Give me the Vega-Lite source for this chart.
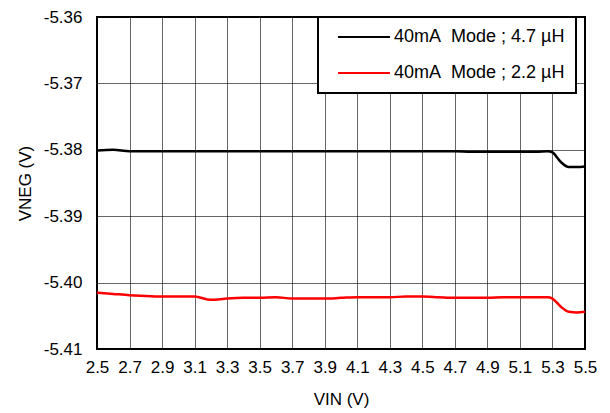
{
  "$schema": "https://vega.github.io/schema/vega-lite/v6.json",
  "width": 488,
  "height": 332,
  "autosize": "none",
  "padding": {"left": 97, "top": 17, "right": 25, "bottom": 64},
  "background": "white",
  "config": {
    "font": "Liberation Sans",
    "view": {"stroke": "black", "strokeWidth": 2},
    "axis": {"labelFont": "Liberation Sans", "titleFont": "Liberation Sans", "labelFontSize": 17, "titleFontSize": 17, "titleFontWeight": "normal", "labelColor": "black", "titleColor": "black", "gridColor": "black", "gridOpacity": 0.6, "gridWidth": 1, "ticks": false, "domain": false}
  },
  "data": {"values": [
    {"vin": 2.5, "v": -5.3801, "s": "A"}, {"vin": 2.6, "v": -5.3800, "s": "A"}, {"vin": 2.7, "v": -5.3802, "s": "A"},
    {"vin": 2.8, "v": -5.3802, "s": "A"}, {"vin": 2.9, "v": -5.3802, "s": "A"}, {"vin": 3.0, "v": -5.3802, "s": "A"},
    {"vin": 3.1, "v": -5.3802, "s": "A"}, {"vin": 3.2, "v": -5.3802, "s": "A"}, {"vin": 3.3, "v": -5.3802, "s": "A"},
    {"vin": 3.4, "v": -5.3802, "s": "A"}, {"vin": 3.5, "v": -5.3802, "s": "A"}, {"vin": 3.6, "v": -5.3802, "s": "A"},
    {"vin": 3.7, "v": -5.3802, "s": "A"}, {"vin": 3.8, "v": -5.3802, "s": "A"}, {"vin": 3.9, "v": -5.3802, "s": "A"},
    {"vin": 4.0, "v": -5.3802, "s": "A"}, {"vin": 4.1, "v": -5.3802, "s": "A"}, {"vin": 4.2, "v": -5.3802, "s": "A"},
    {"vin": 4.3, "v": -5.3802, "s": "A"}, {"vin": 4.4, "v": -5.3802, "s": "A"}, {"vin": 4.5, "v": -5.3802, "s": "A"},
    {"vin": 4.6, "v": -5.3802, "s": "A"}, {"vin": 4.7, "v": -5.3802, "s": "A"}, {"vin": 4.8, "v": -5.3803, "s": "A"},
    {"vin": 4.9, "v": -5.3803, "s": "A"}, {"vin": 5.0, "v": -5.3803, "s": "A"}, {"vin": 5.1, "v": -5.3803, "s": "A"},
    {"vin": 5.2, "v": -5.3803, "s": "A"}, {"vin": 5.27, "v": -5.3802, "s": "A"}, {"vin": 5.3, "v": -5.3804, "s": "A"},
    {"vin": 5.35, "v": -5.3818, "s": "A"}, {"vin": 5.4, "v": -5.3826, "s": "A"}, {"vin": 5.45, "v": -5.3826, "s": "A"},
    {"vin": 5.5, "v": -5.3825, "s": "A"},
    {"vin": 2.5, "v": -5.4015, "s": "B"}, {"vin": 2.6, "v": -5.4017, "s": "B"}, {"vin": 2.7, "v": -5.4019, "s": "B"},
    {"vin": 2.8, "v": -5.4020, "s": "B"}, {"vin": 2.9, "v": -5.4021, "s": "B"}, {"vin": 3.0, "v": -5.4021, "s": "B"},
    {"vin": 3.1, "v": -5.4021, "s": "B"}, {"vin": 3.2, "v": -5.4026, "s": "B"}, {"vin": 3.3, "v": -5.4024, "s": "B"},
    {"vin": 3.4, "v": -5.4023, "s": "B"}, {"vin": 3.5, "v": -5.4023, "s": "B"}, {"vin": 3.6, "v": -5.4022, "s": "B"},
    {"vin": 3.7, "v": -5.4024, "s": "B"}, {"vin": 3.8, "v": -5.4024, "s": "B"}, {"vin": 3.9, "v": -5.4024, "s": "B"},
    {"vin": 4.0, "v": -5.4023, "s": "B"}, {"vin": 4.1, "v": -5.4022, "s": "B"}, {"vin": 4.2, "v": -5.4022, "s": "B"},
    {"vin": 4.3, "v": -5.4022, "s": "B"}, {"vin": 4.4, "v": -5.4021, "s": "B"}, {"vin": 4.5, "v": -5.4021, "s": "B"},
    {"vin": 4.6, "v": -5.4022, "s": "B"}, {"vin": 4.7, "v": -5.4023, "s": "B"}, {"vin": 4.8, "v": -5.4023, "s": "B"},
    {"vin": 4.9, "v": -5.4023, "s": "B"}, {"vin": 5.0, "v": -5.4022, "s": "B"}, {"vin": 5.1, "v": -5.4022, "s": "B"},
    {"vin": 5.2, "v": -5.4022, "s": "B"}, {"vin": 5.27, "v": -5.4022, "s": "B"}, {"vin": 5.3, "v": -5.4024, "s": "B"},
    {"vin": 5.35, "v": -5.4036, "s": "B"}, {"vin": 5.4, "v": -5.4044, "s": "B"}, {"vin": 5.45, "v": -5.4045, "s": "B"},
    {"vin": 5.5, "v": -5.4044, "s": "B"}
  ]},
  "mark": {"type": "line", "strokeWidth": 2.5, "interpolate": "monotone"},
  "encoding": {
    "x": {"field": "vin", "type": "quantitative", "title": "VIN (V)",
      "scale": {"domain": [2.5, 5.5], "nice": false, "zero": false},
      "axis": {"values": [2.5, 2.7, 2.9, 3.1, 3.3, 3.5, 3.7, 3.9, 4.1, 4.3, 4.5, 4.7, 4.9, 5.1, 5.3, 5.5], "format": ".1f", "labelPadding": 10, "titlePadding": 16, "labelFlush": false}},
    "y": {"field": "v", "type": "quantitative", "title": "VNEG (V)",
      "scale": {"domain": [-5.41, -5.36], "nice": false, "zero": false},
      "axis": {"values": [-5.41, -5.40, -5.39, -5.38, -5.37, -5.36], "labelExpr": "replace(format(datum.value, '.2f'), '\u2212', '-')", "labelPadding": 15, "titlePadding": 9, "labelFlush": false}},
    "color": {"field": "s", "type": "nominal",
      "scale": {"domain": ["A", "B"], "range": ["#000000", "#ff0000"]},
      "legend": {"orient": "none", "legendX": 221, "legendY": 0, "title": null,
        "labelExpr": "datum.value == 'A' ? '40mA\u00a0 Mode ; 4.7 µH' : '40mA\u00a0 Mode ; 2.2 µH'",
        "symbolType": "stroke", "symbolSize": 2704, "symbolStrokeWidth": 2, "symbolOffset": 8,
        "clipHeight": 18, "rowPadding": 18, "padding": 11,
        "labelFontSize": 18, "labelFont": "Liberation Sans", "labelColor": "black", "labelLimit": 300,
        "strokeColor": "black", "fillColor": "white", "labelOffset": 3,
        "encode": {"legend": {"update": {"strokeWidth": {"value": 2}}}}}}
  }
}
